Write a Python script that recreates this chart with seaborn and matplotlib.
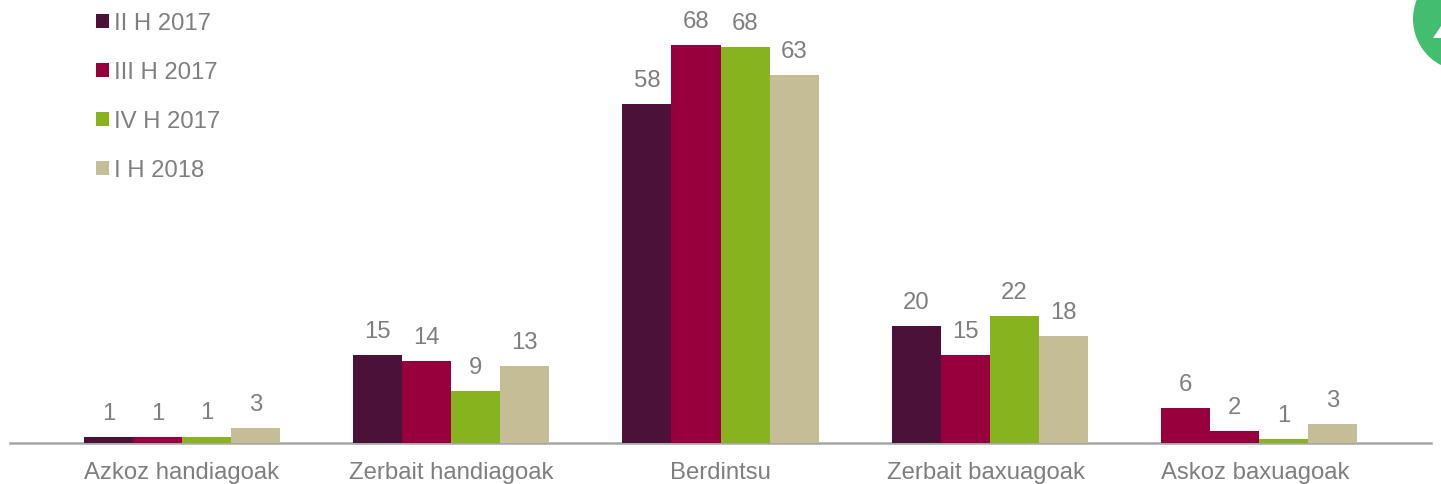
import pandas as pd
import seaborn as sns
import matplotlib
matplotlib.use('Agg')
import matplotlib.pyplot as plt
from matplotlib.patches import Circle, Polygon
from matplotlib.transforms import ScaledTranslation

# datos
categorias = ['Azkoz handiagoak', 'Zerbait handiagoak', 'Berdintsu', 'Zerbait baxuagoak', 'Askoz baxuagoak']
periodos = ['II H 2017', 'III H 2017', 'IV H 2017', 'I H 2018']
ii_h_2017 = [1.0, 15.0, 58.0, 20.0, 6.0]
iii_h_2017 = [1.0, 14.0, 68.0, 15.0, 2.1]
iv_h_2017 = [1.1, 8.9, 67.7, 21.7, 0.7]
i_h_2018 = [2.6, 13.2, 62.9, 18.3, 3.2]
etiquetas = [['1', '15', '58', '20', '6'],
             ['1', '14', '68', '15', '2'],
             ['1', '9', '68', '22', '1'],
             ['3', '13', '63', '18', '3']]
colores = ['#4b1139', '#97003c', '#87b41e', '#c5bd96']
gris = '#7f7f7f'

df = pd.DataFrame({'categoria': categorias * 4,
                   'periodo': [p for p in periodos for _ in categorias],
                   'valor': ii_h_2017 + iii_h_2017 + iv_h_2017 + i_h_2018})

sns.set_theme(style='white')
plt.rcParams['font.family'] = ['Liberation Sans', 'DejaVu Sans']

W, H = 1441, 485
fig = plt.figure(figsize=(W / 100, H / 100), dpi=100)
ax = fig.add_axes([10 / W, (H - 444) / H, (1431 - 10) / W, 444 / H])

sns.barplot(data=df, x='categoria', y='valor', hue='periodo', order=categorias, hue_order=periodos,
            palette=colores, width=0.728, gap=0, saturation=1, errorbar=None, linewidth=0, ax=ax)

# en el original la barra de 6 de la ultima categoria va en el color de la segunda serie
ax.containers[0][4].set_facecolor(colores[1])

for cont, lab in zip(ax.containers, etiquetas):
    ax.bar_label(cont, labels=lab, padding=9.5, fontsize=17.2, color=gris)

# escala: 1 unidad = 5.85 px
ax.set_ylim(0, 444 / 5.85)
centro0 = (10 - 182) / 269.25
ax.set_xlim(centro0, centro0 + (1431 - 10) / 269.25)
ax.set_xlabel('')
ax.set_ylabel('')
ax.set_yticks([])
ax.tick_params(axis='x', length=0, pad=13, labelsize=17.2, labelcolor=gris)
sns.despine(ax=ax, left=True)
ax.spines['bottom'].set_color('#a6a6a6')
ax.spines['bottom'].set_linewidth(1.8)
ax.spines['bottom'].set_zorder(0.5)
ax.patch.set_alpha(0)

# las dos ultimas etiquetas van algo corridas a la izquierda en el original
for t in ax.get_xticklabels()[3:]:
    t.set_transform(t.get_transform() + ScaledTranslation(-4 / 100, 0, fig.dpi_scale_trans))

ax.legend(loc='upper left', bbox_to_anchor=(73 / 1421, 1.0), frameon=False, fontsize=17.2,
          labelcolor=gris, handlelength=0.52, handleheight=0.52, handletextpad=0.22,
          labelspacing=1.13, borderaxespad=0, borderpad=0.55)

# circulo verde de la esquina
escala = fig.dpi_scale_trans
fig.add_artist(Circle((1465 / 100, (H - 20) / 100), 0.52, transform=escala, color='#43bd6f', lw=0))
fig.add_artist(Polygon([(14.33, (H - 39) / 100), (14.41, (H - 27) / 100), (14.41, (H - 39) / 100)],
                       transform=escala, color='white', lw=0))

fig.savefig('out.png', dpi=100)
